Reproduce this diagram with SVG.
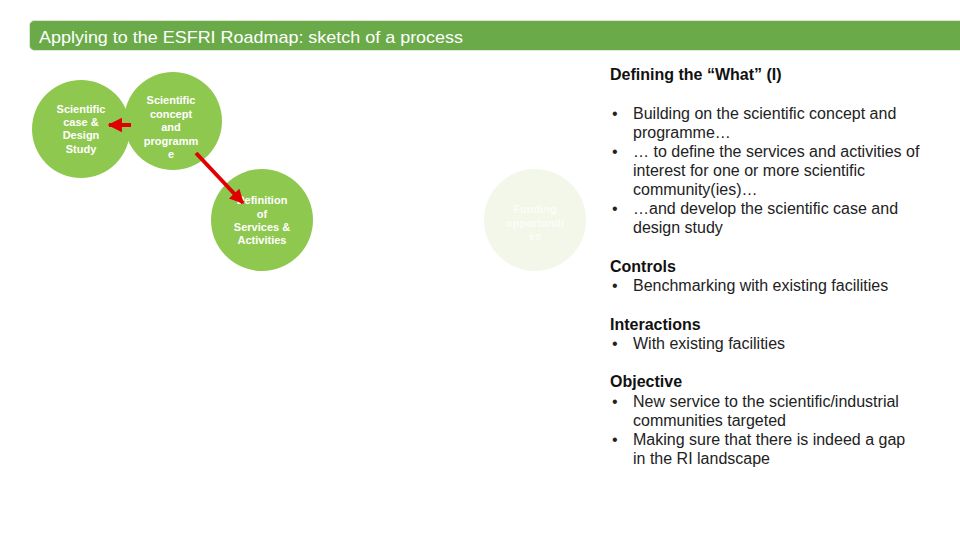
<svg xmlns="http://www.w3.org/2000/svg" width="960" height="540" viewBox="0 0 960 540">
<defs>
<style>
.node{fill:#8fc84f}
.ntext{font-family:"Liberation Sans",Arial,sans-serif;font-size:11px;font-weight:bold;fill:#ffffff;text-anchor:middle}
.faint{fill:#f2f7e9}
.ftext{font-family:"Liberation Sans",Arial,sans-serif;font-size:11px;font-weight:bold;fill:#fbfdf8;text-anchor:middle}
.body{font-family:"Liberation Sans",Arial,sans-serif;font-size:16px;fill:#222222}
.head{font-family:"Liberation Sans",Arial,sans-serif;font-size:16px;font-weight:bold;fill:#111111}
.conn{stroke:#e00000;stroke-width:4;fill:none}
</style>
<marker id="ah" viewBox="0 0 10 10" refX="9" refY="5" markerWidth="3.6" markerHeight="4" orient="auto" markerUnits="strokeWidth">
<path d="M0,0 L10,5 L0,10 z" fill="#e00000"/>
</marker>
</defs>
<rect width="960" height="540" fill="#ffffff"/>
<g id="header">
<rect x="29.500" y="20.500" width="940" height="30" rx="5" fill="#6aaa48" stroke="#dde8d5" stroke-width="1"/>
<text x="39" y="43" font-family="Liberation Sans, Arial, sans-serif" font-size="17" fill="#ffffff" textLength="424" lengthAdjust="spacingAndGlyphs">Applying to the ESFRI Roadmap: sketch of a process</text>
</g>
<g id="node-case">
<circle class="node" cx="81" cy="129" r="49"/>
<text class="ntext" x="81" y="113">Scientific</text>
<text class="ntext" x="81" y="126">case &amp;</text>
<text class="ntext" x="81" y="139">Design</text>
<text class="ntext" x="81" y="153">Study</text>
</g>
<g id="node-concept">
<circle class="node" cx="173" cy="121" r="49"/>
<text class="ntext" x="171" y="104">Scientific</text>
<text class="ntext" x="171" y="118">concept</text>
<text class="ntext" x="171" y="131">and</text>
<text class="ntext" x="171" y="145">programm</text>
<text class="ntext" x="171" y="158">e</text>
</g>
<g id="node-services">
<circle class="node" cx="262" cy="220" r="51"/>
<text class="ntext" x="262" y="204">Definition</text>
<text class="ntext" x="262" y="218">of</text>
<text class="ntext" x="262" y="231">Services &amp;</text>
<text class="ntext" x="262" y="244">Activities</text>
</g>
<g id="node-funding">
<circle class="faint" cx="535" cy="220" r="51"/>
<text class="ftext" x="535" y="213">Funding</text>
<text class="ftext" x="535" y="227">opportuniti</text>
<text class="ftext" x="535" y="240">es</text>
</g>
<g id="connectors">
<line class="conn" x1="131" y1="125" x2="109" y2="125" marker-end="url(#ah)"/>
<line class="conn" x1="196" y1="153" x2="243" y2="203" marker-end="url(#ah)"/>
</g>
<g id="panel">
<text class="head" x="610" y="80">Defining the “What” (I)</text>
<text class="body" x="612" y="119">•</text>
<text class="body" x="633" y="119">Building on the scientific concept and</text>
<text class="body" x="633" y="138">programme…</text>
<text class="body" x="612" y="157">•</text>
<text class="body" x="633" y="157">… to define the services and activities of</text>
<text class="body" x="633" y="176">interest for one or more scientific</text>
<text class="body" x="633" y="195">community(ies)…</text>
<text class="body" x="612" y="214">•</text>
<text class="body" x="633" y="214">…and develop the scientific case and</text>
<text class="body" x="633" y="233">design study</text>
<text class="head" x="610" y="272">Controls</text>
<text class="body" x="612" y="291">•</text>
<text class="body" x="633" y="291">Benchmarking with existing facilities</text>
<text class="head" x="610" y="330">Interactions</text>
<text class="body" x="612" y="349">•</text>
<text class="body" x="633" y="349">With existing facilities</text>
<text class="head" x="610" y="387">Objective</text>
<text class="body" x="612" y="407">•</text>
<text class="body" x="633" y="407">New service to the scientific/industrial</text>
<text class="body" x="633" y="426">communities targeted</text>
<text class="body" x="612" y="445">•</text>
<text class="body" x="633" y="445">Making sure that there is indeed a gap</text>
<text class="body" x="633" y="464">in the RI landscape</text>
</g>
</svg>
